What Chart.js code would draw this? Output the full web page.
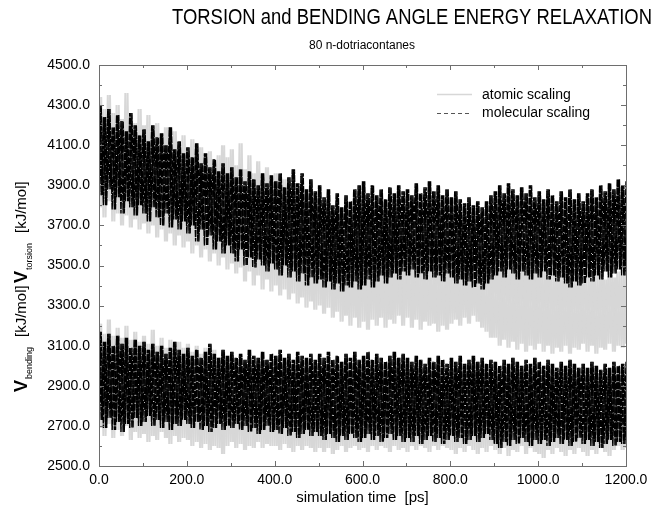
<!DOCTYPE html>
<html>
<head>
<meta charset="utf-8">
<script src="https://cdn.jsdelivr.net/npm/chart.js@4.4.0/dist/chart.umd.min.js"></script>
<style>
    body { margin: 0; background: #fff; }
    #caixa { width: 657px; height: 508px; position: relative; }
</style>
</head>
<body>
<div id="caixa"><canvas id="grafico"></canvas></div>
<script>
// Amostragem a cada 10 ps: para cada instante, o pico superior e o inferior
const passo = 10;
const tempos = [];
for (let t = 0; t <= 1200; t += passo) tempos.push(t);

// torsão - escala molecular (preto tracejado)
const torsaoMolAlto = [
    4300,4240,4280,4190,4250,4220,4170,4260,4200,4150,
    4180,4120,4200,4140,4160,4100,4190,4080,4120,4060,
    4090,4040,4110,4010,4060,3990,4030,3970,4010,3960,
    3990,3940,3980,3920,3970,3930,3900,3960,3910,3950,
    3920,3960,3890,3940,3980,3910,3960,3880,3930,3870,
    3900,3840,3880,3800,3860,3790,3850,3820,3880,3900,
    3920,3860,3900,3850,3880,3830,3890,3860,3900,3870,
    3880,3850,3910,3860,3890,3920,3870,3900,3850,3880,
    3840,3870,3830,3810,3840,3800,3820,3790,3820,3850,
    3870,3900,3860,3910,3880,3850,3890,3860,3900,3840,
    3870,3830,3880,3850,3820,3870,3840,3880,3830,3860,
    3820,3860,3880,3840,3900,3870,3910,3880,3930,3900,
    3920
];
const torsaoMolBaixo = [
    3850,3800,3880,3780,3840,3760,3820,3790,3750,3800,
    3760,3720,3790,3740,3700,3760,3690,3730,3680,3720,
    3660,3700,3620,3680,3600,3650,3580,3620,3560,3600,
    3560,3520,3580,3500,3540,3490,3530,3500,3470,3510,
    3480,3450,3500,3440,3470,3420,3460,3400,3440,3410,
    3430,3390,3420,3380,3410,3370,3400,3390,3420,3380,
    3400,3430,3390,3420,3450,3410,3440,3460,3430,3470,
    3450,3480,3440,3460,3430,3470,3440,3450,3420,3460,
    3440,3410,3430,3400,3420,3390,3410,3380,3410,3430,
    3450,3470,3440,3480,3460,3430,3470,3450,3430,3460,
    3440,3470,3430,3450,3420,3440,3410,3390,3420,3400,
    3410,3440,3420,3450,3430,3470,3440,3460,3480,3450,
    3470
];

// torsão - escala atômica (cinza)
const torsaoAtomAlto = [
    4340,4280,4350,4260,4300,4230,4360,4250,4210,4280,
    4200,4250,4160,4210,4140,4190,4120,4170,4100,4150,
    4080,4130,4060,4090,4030,4070,4010,4050,4100,4040,
    4080,4000,4110,3980,4050,3960,4020,3940,3990,3920,
    3960,3900,3930,3870,3910,3850,3890,3830,3870,3810,
    3840,3790,3820,3760,3800,3740,3780,3720,3760,3710,
    3740,3690,3730,3680,3710,3660,3700,3650,3690,3640,
    3680,3630,3670,3620,3660,3610,3650,3600,3640,3590,
    3620,3580,3610,3560,3600,3550,3590,3540,3580,3530,
    3570,3520,3560,3510,3550,3500,3540,3490,3530,3480,
    3520,3470,3510,3460,3500,3450,3490,3440,3480,3450,
    3490,3440,3480,3450,3470,3430,3480,3440,3470,3450,
    3460
];
const torsaoAtomBaixo = [
    3790,3740,3820,3720,3760,3700,3750,3690,3730,3680,
    3710,3660,3700,3640,3680,3620,3660,3600,3650,3590,
    3620,3560,3600,3540,3580,3520,3560,3500,3540,3480,
    3510,3460,3490,3420,3470,3400,3450,3380,3430,3370,
    3400,3350,3380,3330,3360,3310,3340,3290,3320,3280,
    3300,3260,3290,3240,3270,3220,3250,3200,3240,3190,
    3220,3180,3230,3200,3240,3190,3230,3210,3250,3200,
    3240,3190,3230,3180,3220,3200,3210,3170,3200,3180,
    3210,3230,3200,3240,3210,3250,3220,3190,3170,3140,
    3140,3100,3130,3090,3120,3080,3110,3070,3100,3080,
    3110,3070,3100,3060,3090,3070,3100,3060,3090,3080,
    3110,3070,3100,3060,3090,3080,3110,3070,3100,3090,
    3110
];

// flexão - escala molecular (preto tracejado)
const flexaoMolAlto = [
    3170,3120,3160,3100,3150,3110,3140,3090,3130,3100,
    3120,3080,3110,3070,3100,3060,3090,3120,3080,3060,
    3090,3050,3080,3040,3070,3110,3060,3040,3080,3050,
    3070,3040,3060,3030,3080,3050,3040,3070,3030,3060,
    3050,3080,3040,3060,3030,3070,3050,3040,3060,3030,
    3060,3040,3070,3030,3050,3020,3060,3040,3070,3030,
    3050,3070,3030,3060,3040,3020,3050,3070,3040,3060,
    3040,3020,3050,3030,3010,3040,3020,3050,3030,3010,
    3040,3020,3050,3010,3030,3050,3020,3040,3010,3030,
    3020,3000,3030,3010,3040,3020,3000,3030,3010,3040,
    3020,3000,3030,3010,2990,3020,3000,3030,3010,2990,
    3010,2990,3020,3000,2980,3010,2990,3020,3000,3010,
    3020
];
const flexaoMolBaixo = [
    2730,2690,2740,2680,2720,2670,2710,2690,2740,2700,
    2720,2750,2700,2730,2690,2720,2680,2710,2700,2730,
    2710,2690,2720,2680,2700,2670,2690,2710,2680,2700,
    2690,2710,2680,2700,2670,2690,2660,2680,2700,2670,
    2680,2660,2690,2650,2670,2640,2660,2680,2650,2670,
    2650,2630,2660,2640,2620,2650,2630,2660,2640,2620,
    2640,2660,2630,2650,2620,2640,2660,2630,2650,2620,
    2640,2620,2650,2610,2630,2650,2620,2640,2610,2630,
    2650,2620,2640,2610,2630,2650,2620,2640,2660,2630,
    2610,2590,2620,2600,2630,2610,2640,2620,2600,2630,
    2610,2630,2600,2620,2640,2610,2630,2600,2620,2640,
    2610,2630,2600,2620,2590,2610,2630,2600,2620,2610,
    2630
];

// flexão - escala atômica (cinza)
const flexaoAtomAlto = [
    3210,3160,3230,3150,3190,3140,3200,3130,3170,3120,
    3150,3110,3180,3100,3140,3090,3130,3080,3120,3090,
    3110,3070,3100,3060,3090,3050,3080,3040,3070,3030,
    3060,3020,3050,3010,3040,3000,3030,2990,3020,3000,
    3010,2980,3020,2990,3010,2970,3000,2980,3020,2990,
    3000,2970,3010,2980,3000,2960,2990,2970,3010,2980,
    3000,2960,2990,2970,3010,2980,3000,2960,2990,2970,
    2990,2960,3000,2970,2990,2960,2980,3000,2970,2990,
    2980,2960,2990,2970,3000,2960,2980,2990,2970,2950,
    2980,2960,2990,2970,2950,2980,2960,2990,2970,2950,
    2970,2950,2980,2960,2990,2970,2950,2980,2960,2940,
    2970,2950,2980,2960,2940,2970,2950,2980,2960,2970,
    2960
];
const flexaoAtomBaixo = [
    2690,2650,2710,2640,2680,2650,2700,2630,2670,2640,
    2660,2620,2650,2630,2670,2640,2610,2650,2620,2640,
    2630,2600,2620,2590,2610,2580,2600,2590,2560,2600,
    2620,2590,2610,2580,2600,2590,2620,2590,2610,2600,
    2600,2580,2610,2590,2570,2600,2580,2600,2590,2570,
    2590,2570,2590,2560,2580,2600,2570,2590,2600,2580,
    2590,2570,2600,2580,2600,2590,2570,2600,2580,2590,
    2570,2600,2580,2600,2590,2570,2600,2580,2600,2590,
    2580,2560,2590,2570,2600,2580,2560,2590,2570,2600,
    2580,2560,2590,2550,2580,2570,2600,2560,2590,2570,
    2560,2540,2580,2560,2590,2570,2550,2580,2560,2590,
    2570,2550,2580,2560,2590,2570,2550,2580,2600,2580,
    2590
];

const fonte = '"Liberation Sans", Arial, Helvetica, sans-serif';
const titulo = 'TORSION and BENDING ANGLE ENERGY RELAXATION';

// Junta os picos num traço em zigue-zague; 'fase' troca a ordem alto/baixo
// para que os traços se cruzem e preencham a faixa de ruído
function montarPontos(altos, baixos, fase, desvio) {
    const pontos = [];
    for (let i = 0; i < tempos.length; i++) {
        const a = fase ? baixos[i] : altos[i];
        const b = fase ? altos[i] : baixos[i];
        pontos.push({ x: tempos[i] + desvio, y: a });
        pontos.push({ x: tempos[i] + desvio + passo / 2, y: b });
    }
    return pontos;
}

function serie(rotulo, altos, baixos, fase, desvio, molecular) {
    return {
        label: rotulo,
        data: montarPontos(altos, baixos, fase, desvio),
        borderColor: molecular ? '#000' : '#d7d7d7',
        borderWidth: molecular ? 1.4 : 2,
        borderDash: molecular ? [7, 1] : [],
        borderDashOffset: fase ? 3 : 0,
        order: molecular ? 1 : 2
    };
}

// Desenha um rótulo vertical tipo "V_torsion  [kJ/mol]" a partir de baixo
function rotuloVertical(ctx, x, yBase, sub) {
    ctx.save();
    ctx.translate(x, yBase);
    ctx.rotate(-Math.PI / 2);
    ctx.textBaseline = 'alphabetic';
    ctx.textAlign = 'left';
    ctx.fillStyle = '#000';
    ctx.font = 'bold 18px ' + fonte;
    ctx.fillText('V', 0, 0);
    let pos = ctx.measureText('V').width + 1;
    ctx.font = '9px ' + fonte;
    ctx.fillText(sub, pos, 5);
    pos += ctx.measureText(sub).width + 10;
    ctx.font = '15px ' + fonte;
    ctx.fillText('[kJ/mol]', pos, -1);
    ctx.restore();
}

// Moldura, marcas internas, títulos e legenda
const moldura = {
    id: 'moldura',
    afterDraw(chart) {
        const { ctx, chartArea: a, scales: { x, y } } = chart;
        ctx.save();
        ctx.strokeStyle = '#6e6e6e';
        ctx.lineWidth = 1;
        ctx.strokeRect(a.left + 0.5, a.top + 0.5, a.right - a.left, a.bottom - a.top);

        ctx.beginPath();
        for (let v = 0; v <= 1200; v += 100) {
            const px = Math.round(x.getPixelForValue(v)) + 0.5;
            const len = v % 200 === 0 ? 5 : 3;
            ctx.moveTo(px, a.bottom); ctx.lineTo(px, a.bottom - len);
            ctx.moveTo(px, a.top); ctx.lineTo(px, a.top + len);
        }
        for (let v = 2500; v <= 4500; v += 100) {
            const py = Math.round(y.getPixelForValue(v)) + 0.5;
            const len = (v - 2500) % 200 === 0 ? 5 : 3;
            ctx.moveTo(a.left, py); ctx.lineTo(a.left + len, py);
            ctx.moveTo(a.right, py); ctx.lineTo(a.right - len, py);
        }
        ctx.stroke();

        // títulos (o título é estreitado para caber como no original)
        ctx.fillStyle = '#000';
        ctx.textAlign = 'center';
        ctx.textBaseline = 'middle';
        ctx.font = '22px ' + fonte;
        const largura = ctx.measureText(titulo).width;
        ctx.save();
        ctx.translate(412, 18);
        ctx.scale(480 / largura, 1);
        ctx.fillText(titulo, 0, 0);
        ctx.restore();
        ctx.font = '12px ' + fonte;
        ctx.fillText('80 n-dotriacontanes', 362, 46);

        // legenda
        ctx.lineWidth = 1.5;
        ctx.strokeStyle = '#d7d7d7';
        ctx.beginPath(); ctx.moveTo(437, 94.5); ctx.lineTo(472, 94.5); ctx.stroke();
        ctx.strokeStyle = '#555';
        ctx.lineWidth = 1;
        ctx.setLineDash([4, 3]);
        ctx.beginPath(); ctx.moveTo(437, 113.5); ctx.lineTo(472, 113.5); ctx.stroke();
        ctx.setLineDash([]);
        ctx.textAlign = 'left';
        ctx.font = '14px ' + fonte;
        ctx.fillText('atomic scaling', 482, 95);
        ctx.fillText('molecular scaling', 482, 113);
        ctx.restore();

        rotuloVertical(ctx, 27, 283, 'torsion');
        rotuloVertical(ctx, 27, 392, 'bending');
    }
};

const config = {
    type: 'line',
    data: {
        datasets: [
            serie('molecular scaling', torsaoMolAlto, torsaoMolBaixo, 0, 0, true),
            serie('molecular scaling', torsaoMolAlto, torsaoMolBaixo, 1, 0, true),
            serie('molecular scaling', torsaoMolAlto, torsaoMolBaixo, 0, 2.5, true),
            serie('molecular scaling', flexaoMolAlto, flexaoMolBaixo, 0, 0, true),
            serie('molecular scaling', flexaoMolAlto, flexaoMolBaixo, 1, 0, true),
            serie('molecular scaling', flexaoMolAlto, flexaoMolBaixo, 0, 2.5, true),
            serie('atomic scaling', torsaoAtomAlto, torsaoAtomBaixo, 0, 0, false),
            serie('atomic scaling', torsaoAtomAlto, torsaoAtomBaixo, 1, 0, false),
            serie('atomic scaling', flexaoAtomAlto, flexaoAtomBaixo, 0, 0, false),
            serie('atomic scaling', flexaoAtomAlto, flexaoAtomBaixo, 1, 0, false)
        ]
    },
    options: {
        responsive: true,
        maintainAspectRatio: false,
        animation: false,
        layout: { padding: { top: 65, right: 31, left: 0, bottom: 0 } },
        elements: { point: { radius: 0 }, line: { tension: 0 } },
        plugins: {
            legend: { display: false },
            title: { display: false },
            tooltip: { enabled: false }
        },
        scales: {
            x: {
                type: 'linear', min: 0, max: 1200,
                grid: { display: false, drawTicks: false },
                border: { display: false },
                ticks: {
                    stepSize: 100, autoSkip: false, maxRotation: 0, padding: 6,
                    color: '#000', font: { size: 14, family: fonte },
                    callback: v => v % 200 === 0 ? v.toFixed(1) : ''
                },
                title: {
                    display: true, text: 'simulation time  [ps]', color: '#000',
                    font: { size: 15, family: fonte }, padding: { top: 0, bottom: 1 }
                },
                afterFit: s => { s.height = 42; }
            },
            y: {
                min: 2500, max: 4500,
                grid: { display: false, drawTicks: false },
                border: { display: false },
                ticks: {
                    stepSize: 100, autoSkip: false, padding: 9,
                    color: '#000', font: { size: 14, family: fonte },
                    callback: v => (v - 2500) % 200 === 0 ? v.toFixed(1) : ''
                },
                afterFit: s => { s.width = 99; }
            }
        }
    },
    plugins: [moldura]
};

document.addEventListener('DOMContentLoaded', function() {
    const ctx = document.getElementById('grafico').getContext('2d');
    new Chart(ctx, config);
});
</script>
</body>
</html>
